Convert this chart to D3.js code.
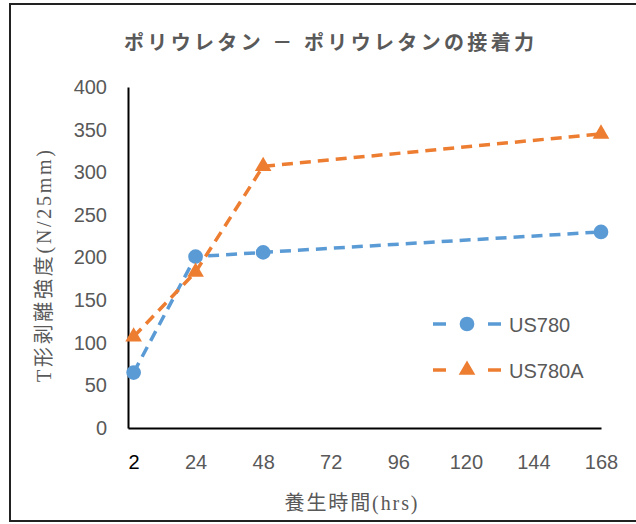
<!DOCTYPE html>
<html>
<head>
<meta charset="utf-8">
<script src="https://cdn.jsdelivr.net/npm/d3@7"></script>
<style>
  body { margin: 0; background: #fff; }
  svg { display: block; }
</style>
</head>
<body>
<svg id="chart" width="636" height="524"></svg>
<script>
const hours = [2, 24, 48, 168];
const us780 = [65, 201, 206, 230];
const us780a = [107, 183, 307, 345];
const xTicks = [2, 24, 48, 72, 96, 120, 144, 168];
const yTicks = [0, 50, 100, 150, 200, 250, 300, 350, 400];
const seriesNames = ["US780", "US780A"];

const svg = d3.select("#chart");
const grey = "#595959";
const blue = "#5b9bd5";
const orange = "#ed7d31";
const cjkFont = "'Liberation Serif', 'Noto Sans CJK JP'";

// outer frame
svg.append("rect")
  .attr("x", 10).attr("y", 4)
  .attr("width", 640).attr("height", 517)
  .attr("fill", "none")
  .attr("stroke", "#222").attr("stroke-width", 2);

const x = d3.scaleLinear().domain([0, 168]).range([128, 601]);
const y = d3.scaleLinear().domain([0, 400]).range([428, 87]);

// title
svg.append("text")
  .attr("x", 329).attr("y", 50)
  .attr("text-anchor", "middle")
  .attr("font-family", cjkFont)
  .attr("font-weight", "bold")
  .attr("font-size", 20)
  .attr("textLength", 410)
  .attr("lengthAdjust", "spacing")
  .attr("fill", grey)
  .text("ポリウレタン － ポリウレタンの接着力");

// axes
const yAxis = svg.append("g")
  .attr("transform", "translate(128,0)")
  .call(d3.axisLeft(y).tickValues(yTicks).tickSize(0).tickPadding(21));
yAxis.select(".domain").attr("stroke", "#000").attr("stroke-width", 2);
yAxis.selectAll("text")
  .attr("font-family", "'Liberation Sans', sans-serif")
  .attr("font-size", 20)
  .attr("fill", grey);

const xAxis = svg.append("g")
  .attr("transform", "translate(0,428)")
  .call(d3.axisBottom(x).tickValues(xTicks).tickSize(0).tickPadding(27));
xAxis.select(".domain").attr("stroke", "#000").attr("stroke-width", 2);
xAxis.selectAll("text")
  .attr("font-family", "'Liberation Sans', sans-serif")
  .attr("font-size", 20)
  .attr("fill", d => d === 2 ? "#000" : grey);

// axis titles
svg.append("text")
  .attr("transform", "translate(51,266) rotate(-90)")
  .attr("text-anchor", "middle")
  .attr("font-family", cjkFont)
  .attr("font-size", 20)
  .attr("textLength", 232)
  .attr("lengthAdjust", "spacing")
  .attr("fill", grey)
  .text("T形剥離強度(N/25mm)");

svg.append("text")
  .attr("x", 351).attr("y", 510)
  .attr("text-anchor", "middle")
  .attr("font-family", cjkFont)
  .attr("font-size", 20)
  .attr("textLength", 133)
  .attr("lengthAdjust", "spacing")
  .attr("fill", grey)
  .text("養生時間(hrs)");

// series
const series = [
  { name: seriesNames[0], values: us780, color: blue, symbol: d3.symbolCircle, size: 170 },
  { name: seriesNames[1], values: us780a, color: orange, symbol: d3.symbolTriangle, size: 120 }
];

const line = d3.line().x(d => x(d[0])).y(d => y(d[1]));

series.forEach(s => {
  const pts = hours.map((h, i) => [h, s.values[i]]);
  svg.append("path")
    .datum(pts)
    .attr("d", line)
    .attr("fill", "none")
    .attr("stroke", s.color)
    .attr("stroke-width", 3.5)
    .attr("stroke-dasharray", "11,7");
  svg.selectAll(null)
    .data(pts)
    .enter().append("path")
    .attr("transform", d => `translate(${x(d[0])},${y(d[1])})`)
    .attr("d", d3.symbol().type(s.symbol).size(s.size))
    .attr("fill", s.color);
});

// legend
series.forEach((s, i) => {
  const ly = 324 + i * 46;
  const g = svg.append("g");
  g.append("line")
    .attr("x1", 433).attr("x2", 501)
    .attr("y1", ly).attr("y2", ly)
    .attr("stroke", s.color)
    .attr("stroke-width", 3.5)
    .attr("stroke-dasharray", "13,42");
  g.append("path")
    .attr("transform", `translate(467,${ly})`)
    .attr("d", d3.symbol().type(s.symbol).size(s.size))
    .attr("fill", s.color);
  g.append("text")
    .attr("x", 509).attr("y", ly + 8)
    .attr("font-family", "'Liberation Sans', sans-serif")
    .attr("font-size", 20)
    .attr("fill", grey)
    .text(s.name);
});
</script>
</body>
</html>
